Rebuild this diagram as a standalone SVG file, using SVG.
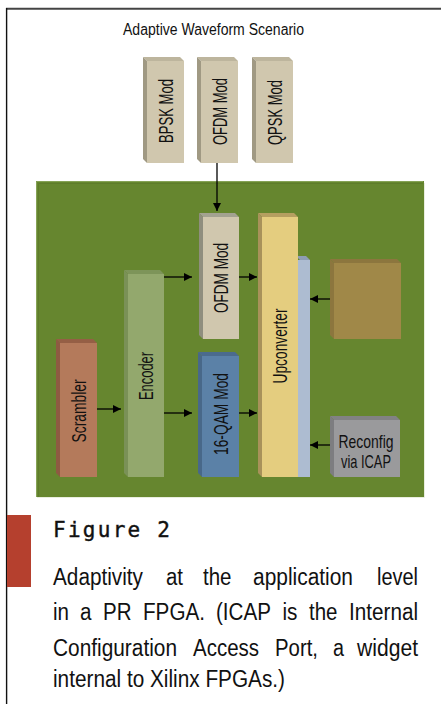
<svg xmlns="http://www.w3.org/2000/svg" width="441" height="704" viewBox="0 0 441 704">
  <defs>
    <marker id="arrow" viewBox="0 0 10 10" refX="10" refY="5" markerWidth="8" markerHeight="8" markerUnits="userSpaceOnUse" orient="auto">
      <path d="M0,0 L10,5 L0,10 Z" fill="#000"/>
    </marker>
  </defs>
  <style>
    .lbl { font-family: "Liberation Sans Narrow", "Liberation Sans", Arial, sans-serif; font-size: 20px; fill: #111; }
    .lbl2 { font-family: "Liberation Sans Narrow", "Liberation Sans", Arial, sans-serif; font-size: 19px; fill: #111; }
    .title { font-family: "Liberation Sans Narrow", "Liberation Sans", Arial, sans-serif; font-size: 16px; fill: #111; }
    .body { font-family: "Liberation Sans Narrow", "Liberation Sans", Arial, sans-serif; font-size: 23.5px; fill: #111; }
    .fig { font-family: "DejaVu Sans Mono", "Liberation Mono", monospace; font-size: 21px; fill: #111; stroke: #111; stroke-width: 0.4; }
    .conn { stroke: #000; stroke-width: 1.3; fill: none; marker-end: url(#arrow); }
    .beige .face { fill: #d0c7ae; } .beige .top { fill: #bdb59d; } .beige .side { fill: #a09983; }
    .gray .face { fill: #d0c7ae; } .gray .top { fill: #a3a291; } .gray .side { fill: #8f8e7e; }
    .yellow .face { fill: #e4cd7f; } .yellow .top { fill: #b59f60; } .yellow .side { fill: #a8925a; }
    .blue .face { fill: #adbcd1; } .blue .top { fill: #8e9db4; } .blue .side { fill: #8e9db4; }
    .brown .face { fill: #a08848; } .brown .top { fill: #8c763e; } .brown .side { fill: #8c763e; }
    .olive .face { fill: #93a86d; } .olive .top { fill: #7d9459; } .olive .side { fill: #7a9157; }
    .rust .face { fill: #b47a5b; } .rust .top { fill: #955f45; } .rust .side { fill: #8e5a42; }
    .steel .face { fill: #5b81a7; } .steel .top { fill: #4b6b8d; } .steel .side { fill: #486889; }
    .slate .face { fill: #9a9a9c; } .slate .top { fill: #828284; } .slate .side { fill: #7d7d80; }
  </style>

  <!-- page frame -->
  <rect x="0" y="0" width="441" height="704" fill="#fff"/>
  <line x1="6" y1="8.8" x2="441" y2="8.8" stroke="#444" stroke-width="2"/>
  <line x1="6.6" y1="8" x2="6.6" y2="704" stroke="#111" stroke-width="1.4"/>

  <text class="title" x="213.5" y="35" text-anchor="middle" textLength="181" lengthAdjust="spacingAndGlyphs">Adaptive Waveform Scenario</text>

  <!-- candidate modulators -->
  <g id="bpsk-mod" class="beige">
    <polygon class="top" points="143,57 180,57 184,61 147,61"/>
    <polygon class="side" points="143,57 147,61 147,163 143,159"/>
    <rect class="face" x="147" y="61" width="37" height="102"/>
    <text class="lbl" transform="translate(165.5,111) rotate(-90)" y="7" text-anchor="middle" textLength="64" lengthAdjust="spacingAndGlyphs">BPSK Mod</text>
  </g>
  <g id="ofdm-mod-option" class="beige">
    <polygon class="top" points="197,57 234,57 238,61 201,61"/>
    <polygon class="side" points="197,57 201,61 201,163 197,159"/>
    <rect class="face" x="201" y="61" width="37" height="102"/>
    <text class="lbl" transform="translate(219.5,111.5) rotate(-90)" y="7" text-anchor="middle" textLength="67" lengthAdjust="spacingAndGlyphs">OFDM Mod</text>
  </g>
  <g id="qpsk-mod" class="beige">
    <polygon class="top" points="252,57 289,57 293,61 256,61"/>
    <polygon class="side" points="252,57 256,61 256,163 252,159"/>
    <rect class="face" x="256" y="61" width="37" height="102"/>
    <text class="lbl" transform="translate(274.5,112.5) rotate(-90)" y="7" text-anchor="middle" textLength="65" lengthAdjust="spacingAndGlyphs">QPSK Mod</text>
  </g>

  <!-- FPGA board -->
  <g id="fpga-board">
    <rect x="36" y="181" width="388" height="316" fill="#66862f"/>
    <path d="M36.5,497 L36.5,181.5 L423,181.5" fill="none" stroke="#86a256" stroke-width="1"/>
    <path d="M38.5,497 L38.5,183.5 L423,183.5" fill="none" stroke="#5e7c2b" stroke-width="1"/>
    <path d="M424.5,183 L424.5,497.5 L37,497.5" fill="none" stroke="#e9eedf" stroke-width="1"/>
  </g>

  <g id="reconfig-strip" class="blue">
    <polygon class="top" points="296,256 306,256 310,260 300,260"/>
    <rect class="face" x="298" y="260" width="12" height="217"/>
  </g>

  <g id="upconverter" class="yellow">
    <polygon class="top" points="258,213 294,213 298,217 262,217"/>
    <polygon class="side" points="258,213 262,217 262,477 258,473"/>
    <rect class="face" x="262" y="217" width="36" height="260"/>
    <text class="lbl" transform="translate(280,346) rotate(-90)" y="7" text-anchor="middle" textLength="75" lengthAdjust="spacingAndGlyphs">Upconverter</text>
  </g>

  <g id="ofdm-mod" class="gray">
    <polygon class="top" points="199,213 235,213 239,217 203,217"/>
    <polygon class="side" points="199,213 203,217 203,339 199,335"/>
    <rect class="face" x="203" y="217" width="36" height="122"/>
    <text class="lbl" transform="translate(221,278) rotate(-90)" y="7" text-anchor="middle" textLength="70" lengthAdjust="spacingAndGlyphs">OFDM Mod</text>
  </g>

  <g id="memory-block" class="brown">
    <polygon class="top" points="330,259 397,259 401,263 334,263"/>
    <polygon class="side" points="330,259 334,263 334,339 330,335"/>
    <rect class="face" x="334" y="263" width="67" height="76"/>
  </g>

  <g id="encoder" class="olive">
    <polygon class="top" points="124,270 160,270 164,274 128,274"/>
    <polygon class="side" points="124,270 128,274 128,477 124,473"/>
    <rect class="face" x="128" y="274" width="36" height="203"/>
    <text class="lbl" transform="translate(146,376) rotate(-90)" y="7" text-anchor="middle" textLength="48" lengthAdjust="spacingAndGlyphs">Encoder</text>
  </g>

  <g id="scrambler" class="rust">
    <polygon class="top" points="56,339 93,339 97,343 60,343"/>
    <polygon class="side" points="56,339 60,343 60,477 56,473"/>
    <rect class="face" x="60" y="343" width="37" height="134"/>
    <text class="lbl" transform="translate(78.5,411) rotate(-90)" y="7" text-anchor="middle" textLength="63" lengthAdjust="spacingAndGlyphs">Scrambler</text>
  </g>

  <g id="qam16-mod" class="steel">
    <polygon class="top" points="198,352 235,352 239,356 202,356"/>
    <polygon class="side" points="198,352 202,356 202,477 198,473"/>
    <rect class="face" x="202" y="356" width="37" height="121"/>
    <text class="lbl" transform="translate(220.5,414) rotate(-90)" y="7" text-anchor="middle" textLength="82" lengthAdjust="spacingAndGlyphs">16-QAM Mod</text>
  </g>

  <g id="reconfig-icap" class="slate">
    <polygon class="top" points="330,416 396,416 400,420 334,420"/>
    <polygon class="side" points="330,416 334,420 334,477 330,473"/>
    <rect class="face" x="334" y="420" width="66" height="57"/>
    <text class="lbl2" x="366" y="448" text-anchor="middle" textLength="55" lengthAdjust="spacingAndGlyphs">Reconfig</text>
    <text class="lbl2" x="366" y="468" text-anchor="middle" textLength="50" lengthAdjust="spacingAndGlyphs">via ICAP</text>
  </g>

  <!-- data paths -->
  <g id="connectors">
    <line class="conn" x1="217" y1="163" x2="217" y2="211"/>
    <line class="conn" x1="164" y1="277" x2="192" y2="277"/>
    <line class="conn" x1="239" y1="277" x2="257" y2="277"/>
    <line class="conn" x1="330" y1="299" x2="310" y2="299"/>
    <line class="conn" x1="97" y1="409" x2="121" y2="409"/>
    <line class="conn" x1="164" y1="413" x2="192" y2="413"/>
    <line class="conn" x1="239" y1="413" x2="257" y2="413"/>
    <line class="conn" x1="330" y1="445" x2="310" y2="445"/>
  </g>

  <!-- caption -->
  <rect x="7" y="515" width="24" height="72" fill="#b5402e"/>
  <text class="fig" x="53" y="537" textLength="117" lengthAdjust="spacing">Figure 2</text>
  <g class="body">
    <text x="53" y="585" textLength="90" lengthAdjust="spacingAndGlyphs">Adaptivity</text>
    <text x="166" y="585" textLength="17" lengthAdjust="spacingAndGlyphs">at</text>
    <text x="203" y="585" textLength="28.5" lengthAdjust="spacingAndGlyphs">the</text>
    <text x="253" y="585" textLength="100" lengthAdjust="spacingAndGlyphs">application</text>
    <text x="377" y="585" textLength="41" lengthAdjust="spacingAndGlyphs">level</text>

    <text x="53" y="620" textLength="16" lengthAdjust="spacingAndGlyphs">in</text>
    <text x="80" y="620" textLength="11.5" lengthAdjust="spacingAndGlyphs">a</text>
    <text x="103" y="620" textLength="28.5" lengthAdjust="spacingAndGlyphs">PR</text>
    <text x="143" y="620" textLength="62" lengthAdjust="spacingAndGlyphs">FPGA.</text>
    <text x="216" y="620" textLength="55" lengthAdjust="spacingAndGlyphs">(ICAP</text>
    <text x="282.5" y="620" textLength="15" lengthAdjust="spacingAndGlyphs">is</text>
    <text x="309" y="620" textLength="28.5" lengthAdjust="spacingAndGlyphs">the</text>
    <text x="349" y="620" textLength="69" lengthAdjust="spacingAndGlyphs">Internal</text>

    <text x="53" y="656" textLength="124" lengthAdjust="spacingAndGlyphs">Configuration</text>
    <text x="193" y="656" textLength="66" lengthAdjust="spacingAndGlyphs">Access</text>
    <text x="275" y="656" textLength="43" lengthAdjust="spacingAndGlyphs">Port,</text>
    <text x="333" y="656" textLength="11" lengthAdjust="spacingAndGlyphs">a</text>
    <text x="357" y="656" textLength="61" lengthAdjust="spacingAndGlyphs">widget</text>

    <text x="53" y="687" textLength="232" lengthAdjust="spacingAndGlyphs">internal to Xilinx FPGAs.)</text>
  </g>
</svg>
